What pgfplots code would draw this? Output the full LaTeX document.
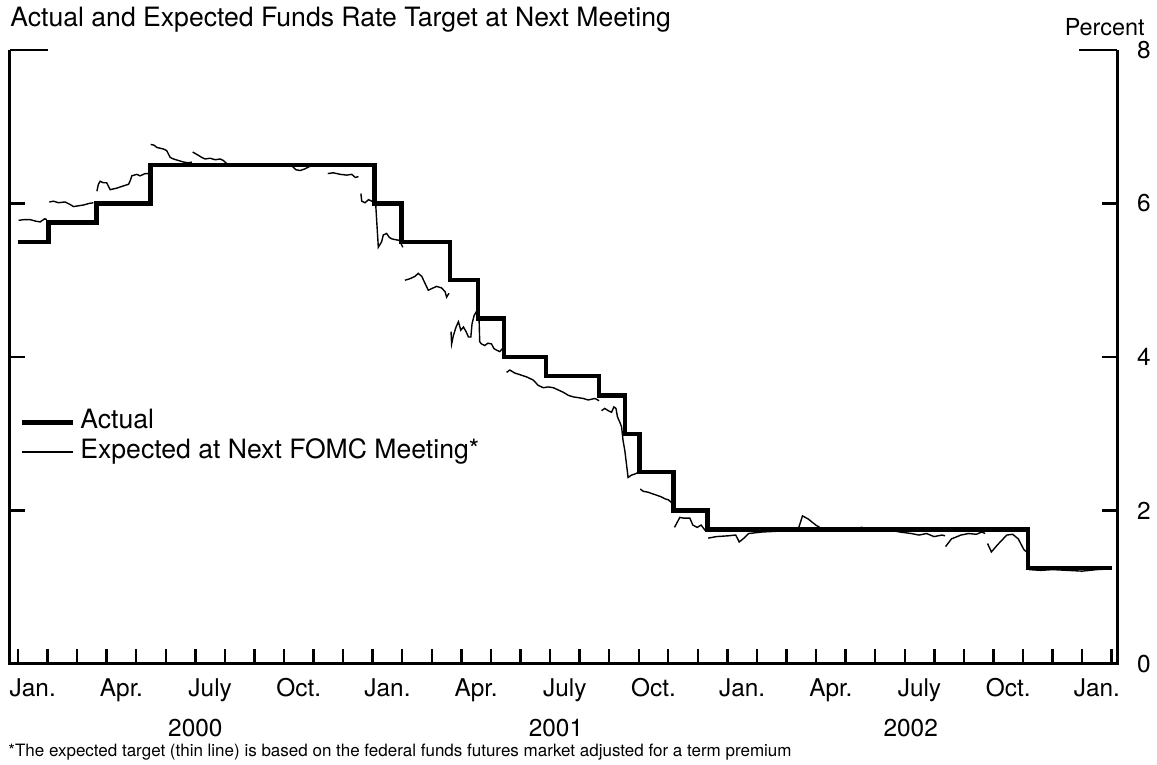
\documentclass[border=0pt]{standalone}
\usepackage{fontspec}
\setmainfont{TeX Gyre Heros}
\usepackage{pgfplots}
\pgfplotsset{compat=1.18}
\begin{document}
\begin{tikzpicture}
\begin{axis}[
  scale only axis, width=553.5pt, height=307pt,
  xmin=-0.27, xmax=37.18, ymin=0, ymax=8,
  clip=false,
  axis line style={draw=none},
  tick align=inside,
  major tick length=7.5pt,
  tick style={black, line width=1.2pt},
  xtick={0,...,37}, xticklabels={}, xtick pos=bottom,
  extra x ticks={0.5,3.5,...,36.5},
  extra x tick labels={Jan.,Apr.,July,Oct.,Jan.,Apr.,July,Oct.,Jan.,Apr.,July,Oct.,Jan.},
  extra x tick style={major tick length=0pt},
  xticklabel style={anchor=base, yshift=-16.5pt, font=\fontsize{12.2}{14}\selectfont},
  ytick={0,2,4,6}, ytick pos=both, yticklabel pos=right,
  extra y ticks={8}, extra y tick style={major tick length=19pt},
  yticklabel style={anchor=west, xshift=6.5pt, font=\fontsize{12.2}{14}\selectfont},
  /pgf/number format/assume math mode=true,
  legend style={at={(0.00903,0.3695)}, anchor=west, draw=none, fill=none,
    inner sep=0pt, outer sep=0pt, row sep=2.8pt,
    font=\fontsize{13.3}{15}\selectfont,
    nodes={inner sep=0pt, text height=9.3pt, text depth=2.7pt}},
  legend cell align=left,
  legend image code/.code={\draw[#1] (0pt,0pt) -- (25.5pt,0pt);},
]
% Actual target
\addplot[const plot, line width=2.2pt, line join=miter, black] coordinates {
(0,5.5)(1.03,5.75)(2.65,6)(4.48,6.5)(12.06,6)(12.97,5.5)(14.61,5)(15.57,4.5)(16.45,4)(17.87,3.75)(19.65,3.5)(20.53,3)(21.03,2.5)(22.17,2)(23.32,1.75)(34.17,1.25)(37.0,1.25)};
\addlegendentry{\hspace*{2.5pt}Actual}
% Expected (thin)
\addplot[line width=0.7pt, black] coordinates {(0.02,5.78)(0.2,5.79)(0.41,5.79)(0.6,5.77)(0.75,5.76)(0.9,5.80)(0.98,5.79)};
\addlegendentry{\hspace*{2.5pt}Expected at Next FOMC Meeting*}
\addplot[line width=0.7pt, black, forget plot] coordinates {(1.06,6.02)(1.2,6.03)(1.37,6.01)(1.59,6.02)(1.75,5.99)(1.88,5.96)(2.05,5.97)(2.21,5.98)(2.4,6.0)(2.55,6.01)};
\addplot[line width=0.7pt, black, forget plot] coordinates {(2.67,6.16)(2.72,6.25)(2.78,6.29)(2.89,6.27)(3.0,6.27)(3.12,6.18)(3.34,6.20)(3.57,6.23)(3.74,6.25)(3.80,6.30)(3.85,6.36)(4.02,6.38)(4.13,6.36)(4.30,6.39)(4.41,6.39)};
\addplot[line width=0.7pt, black, forget plot] coordinates {(4.49,6.77)(4.6,6.76)(4.70,6.73)(4.92,6.71)(5.03,6.69)(5.15,6.60)(5.26,6.58)(5.43,6.56)(5.60,6.54)(5.77,6.53)(5.88,6.54)};
\addplot[line width=0.7pt, black, forget plot] coordinates {(5.91,6.67)(6.05,6.64)(6.22,6.60)(6.33,6.58)(6.50,6.59)(6.67,6.57)(6.84,6.58)(6.95,6.56)(7.06,6.52)(7.18,6.50)(7.6,6.50)};
\addplot[line width=0.7pt, black, forget plot] coordinates {(7.72,6.50)(8.5,6.50)(9.0,6.50)};
\addplot[line width=0.7pt, black, forget plot] coordinates {(9.1,6.50)(9.3,6.48)(9.4,6.44)(9.55,6.43)(9.7,6.45)(9.85,6.48)(10.0,6.50)(10.4,6.50)};
\addplot[line width=0.7pt, black, forget plot] coordinates {(10.48,6.39)(10.67,6.40)(10.90,6.38)(11.12,6.37)(11.29,6.38)(11.41,6.34)(11.52,6.35)};
\addplot[line width=0.7pt, black, forget plot] coordinates {(11.60,6.13)(11.63,6.03)(11.74,6.01)(11.86,6.05)(11.97,6.03)(12.10,6.00)(12.19,5.43)(12.30,5.50)(12.36,5.59)(12.47,5.61)(12.56,5.56)(12.64,5.54)(12.75,5.53)(12.90,5.52)(12.98,5.46)(13.02,5.43)};
\addplot[line width=0.7pt, black, forget plot] coordinates {(13.09,5.00)(13.26,5.02)(13.43,5.05)(13.54,5.09)(13.66,5.05)(13.77,4.96)(13.88,4.87)(13.99,4.89)(14.16,4.92)(14.33,4.90)(14.45,4.85)(14.50,4.78)(14.58,4.83)};
\addplot[line width=0.7pt, black, forget plot] coordinates {(14.65,4.33)(14.67,4.17)(14.73,4.28)(14.82,4.39)(14.90,4.46)(14.98,4.35)(15.07,4.39)(15.16,4.33)(15.24,4.26)(15.32,4.26)(15.36,4.43)(15.43,4.54)(15.52,4.60)(15.57,4.57)(15.60,4.48)(15.62,4.20)(15.68,4.17)(15.79,4.15)(15.90,4.18)(16.02,4.17)(16.10,4.11)(16.19,4.09)(16.30,4.07)(16.39,4.11)(16.45,4.04)};
\addplot[line width=0.7pt, black, forget plot] coordinates {(16.53,3.80)(16.64,3.83)(16.81,3.79)(16.98,3.77)(17.21,3.74)(17.43,3.70)(17.60,3.63)(17.77,3.60)(17.94,3.61)(18.11,3.60)(18.28,3.57)(18.45,3.54)(18.62,3.50)(18.79,3.48)(18.96,3.47)(19.12,3.46)(19.29,3.44)(19.52,3.46)(19.66,3.43)};
\addplot[line width=0.7pt, black, forget plot] coordinates {(19.74,3.30)(19.85,3.33)(19.97,3.30)(20.08,3.28)(20.16,3.35)(20.23,3.33)(20.28,3.22)(20.36,3.15)(20.42,3.09)(20.47,2.91)(20.53,2.78)(20.58,2.62)(20.64,2.43)(20.75,2.46)(20.9,2.48)(21.0,2.50)};
\addplot[line width=0.7pt, black, forget plot] coordinates {(21.05,2.28)(21.15,2.25)(21.3,2.24)(21.45,2.22)(21.6,2.20)(21.75,2.18)(21.9,2.15)(22.0,2.14)(22.12,2.10)};
\addplot[line width=0.7pt, black, forget plot] coordinates {(22.21,1.78)(22.39,1.91)(22.53,1.90)(22.73,1.90)(22.83,1.81)(22.98,1.78)(23.11,1.81)(23.25,1.74)};
\addplot[line width=0.7pt, black, forget plot] coordinates {(23.35,1.64)(23.63,1.66)(24.02,1.67)(24.28,1.68)(24.40,1.59)(24.53,1.63)(24.72,1.70)(25.18,1.72)(25.70,1.73)(26.22,1.74)(26.40,1.76)(26.54,1.93)(26.73,1.89)(26.99,1.81)(27.25,1.75)(27.76,1.74)(28.28,1.76)(28.54,1.78)(28.92,1.75)(29.57,1.74)(29.83,1.72)(30.22,1.70)(30.48,1.68)(30.74,1.70)(30.99,1.66)(31.26,1.68)(31.36,1.67)};
\addplot[line width=0.7pt, black, forget plot] coordinates {(31.38,1.53)(31.58,1.63)(31.90,1.68)(32.16,1.70)(32.42,1.69)(32.61,1.72)(32.72,1.70)};
\addplot[line width=0.7pt, black, forget plot] coordinates {(32.80,1.57)(32.93,1.46)(33.13,1.55)(33.45,1.68)(33.65,1.69)(33.84,1.63)(34.03,1.49)(34.12,1.46)};
\addplot[line width=0.7pt, black, forget plot] coordinates {(34.2,1.23)(34.6,1.22)(35.0,1.23)(35.5,1.22)(36.0,1.21)(36.5,1.23)(37.0,1.24)};
% axis frame (left, bottom, right)
\draw[line width=1.5pt, line join=miter] (rel axis cs:0,1) -- (rel axis cs:0,0) -- (rel axis cs:1,0) -- (rel axis cs:1,1);
% texts
\node[anchor=base west, inner sep=0pt, font=\fontsize{13.3}{15}\selectfont] at ([yshift=318.5pt]rel axis cs:0,0) {Actual and Expected Funds Rate Target at Next Meeting};
\node[anchor=base east, inner sep=0pt, font=\fontsize{11.7}{14}\selectfont] at ([xshift=567.5pt,yshift=314pt]rel axis cs:0,0) {Percent};
\node[anchor=base, inner sep=0pt, font=\fontsize{12.2}{14}\selectfont] at ([yshift=-36.5pt]axis cs:6,0) {2000};
\node[anchor=base, inner sep=0pt, font=\fontsize{12.2}{14}\selectfont] at ([yshift=-36.5pt]axis cs:18.2,0) {2001};
\node[anchor=base, inner sep=0pt, font=\fontsize{12.2}{14}\selectfont] at ([yshift=-36.5pt]axis cs:30.2,0) {2002};
\node[anchor=base west, inner sep=0pt, font=\fontsize{8.5}{10}\selectfont] at ([xshift=-1pt,yshift=-46.5pt]rel axis cs:0,0) {*The expected target (thin line) is based on the federal funds futures market adjusted for a term premium};
\coordinate (bbsw) at ([xshift=-5pt,yshift=-50.5pt]rel axis cs:0,0);
\coordinate (bbne) at ([xshift=573.5pt,yshift=332pt]rel axis cs:0,0);
\end{axis}
\pgfresetboundingbox
\path[use as bounding box] (bbsw) rectangle (bbne);
\end{tikzpicture}
\end{document}
